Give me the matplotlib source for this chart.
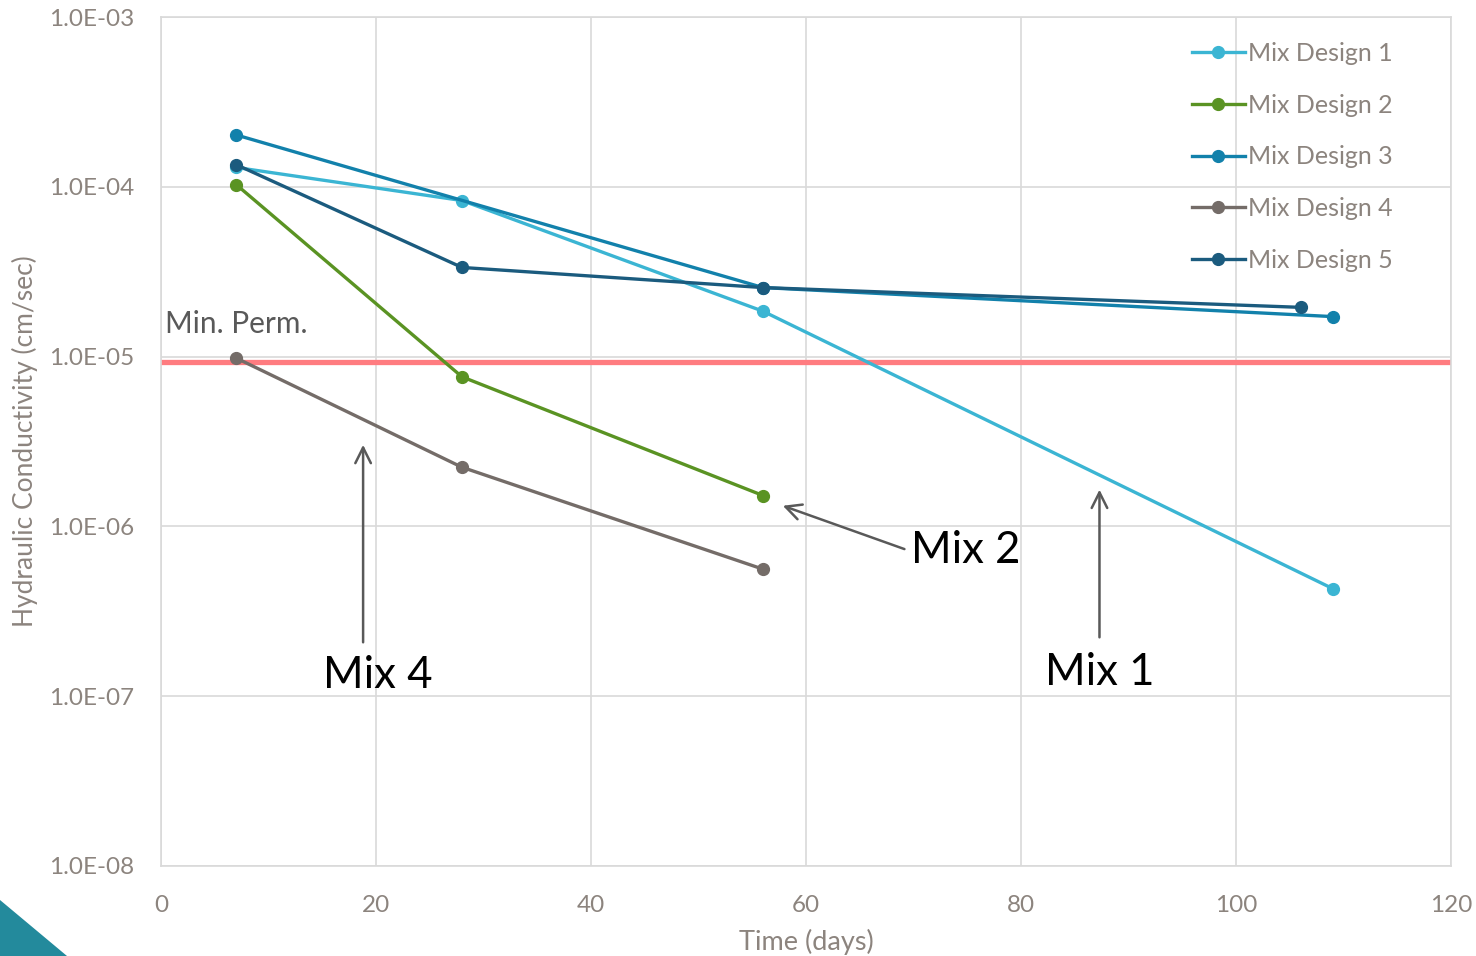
import numpy as np
import matplotlib.pyplot as plt
from matplotlib.patches import Polygon

plt.rcParams['font.family'] = ['Lato', 'DejaVu Sans']

# data
days_1 = [7, 28, 56, 109]
mix_1 = [1.3e-4, 8.3e-5, 1.85e-5, 4.3e-7]
days_2 = [7, 28, 56]
mix_2 = [1.03e-4, 7.6e-6, 1.52e-6]
days_3 = [7, 56, 109]
mix_3 = [2.02e-4, 2.55e-5, 1.72e-5]
days_4 = [7, 28, 56]
mix_4 = [9.8e-6, 2.23e-6, 5.6e-7]
days_5 = [7, 28, 56, 106]
mix_5 = [1.35e-4, 3.35e-5, 2.55e-5, 1.95e-5]
min_perm = 9.3e-6

names = ["Mix Design 1", "Mix Design 2", "Mix Design 3", "Mix Design 4", "Mix Design 5"]
colors = ["#3BB5D3", "#5A9323", "#1281AB", "#746C68", "#1B5B7E"]
series = [(days_1, mix_1), (days_2, mix_2), (days_3, mix_3), (days_4, mix_4), (days_5, mix_5)]

tick_grey = "#8C847E"

fig = plt.figure(figsize=(14.76, 9.56), dpi=100)
ax = fig.add_axes([161/1476, 1 - 866/956, (1451-161)/1476, (866-17)/956])

ax.axhline(min_perm, color="#FF7C80", lw=3.8, zorder=2)

for (d, v), name, c in zip(series, names, colors):
    ax.plot(d, v, "-o", color=c, lw=2.4, ms=8.5, label=name, zorder=3)

ax.set_yscale("log")
ax.set_xlim(0, 120)
ax.set_ylim(1e-8, 1e-3)
ax.set_xticks(np.arange(0, 121, 20))
yt = [1e-8, 1e-7, 1e-6, 1e-5, 1e-4, 1e-3]
ax.set_yticks(yt)
ax.set_yticklabels(["1.0E-%02d" % (-int(np.log10(t))) for t in yt])
ax.yaxis.set_minor_locator(plt.NullLocator())
ax.tick_params(length=0, labelsize=17.5, colors=tick_grey)
ax.tick_params(axis="y", pad=19)
ax.tick_params(axis="x", pad=21)
ax.grid(True, color="#D9D9D9", lw=1.2)
ax.set_axisbelow(True)
for s in ax.spines.values():
    s.set_color("#D9D9D9")
    s.set_linewidth(1.2)

ax.set_xlabel("Time (days)", fontsize=19.5, color=tick_grey, labelpad=9)
ax.set_ylabel("Hydraulic Conductivity (cm/sec)", fontsize=19, color=tick_grey, labelpad=8)

ax.text(0.4, 1.56e-5, "Min. Perm.", fontsize=21.5, color="#595959", va="center", ha="left")

arrow = dict(arrowstyle="->", color="#595959", lw=1.8, mutation_scale=28)
ax.annotate("", xy=(18.8, 3.14e-6), xytext=(18.8, 2.0e-7), arrowprops=arrow)
ax.text(20.2, 1.33e-7, "Mix 4", fontsize=31.5, ha="center", va="center", color="black")
ax.annotate("", xy=(57.6, 1.34e-6), xytext=(69.4, 7.26e-7), arrowprops=arrow)
ax.text(69.8, 7.26e-7, "Mix 2", fontsize=31.5, ha="left", va="center", color="black")
ax.annotate("", xy=(87.3, 1.71e-6), xytext=(87.3, 2.14e-7), arrowprops=arrow)
ax.text(87.3, 1.37e-7, "Mix 1", fontsize=31.5, ha="center", va="center", color="black")

leg = ax.legend(loc="upper left", frameon=False, fontsize=18, labelcolor=tick_grey,
                handlelength=2.1, handletextpad=0.15, labelspacing=1.15,
                borderaxespad=0, bbox_to_anchor=(0.7915, 0.9825))

fig.patches.append(Polygon([[0, 0], [0, 56/956], [67/1476, 0]], closed=True,
                           transform=fig.transFigure, facecolor="#238A9C", edgecolor="none"))

fig.savefig("out.png", dpi=100)
